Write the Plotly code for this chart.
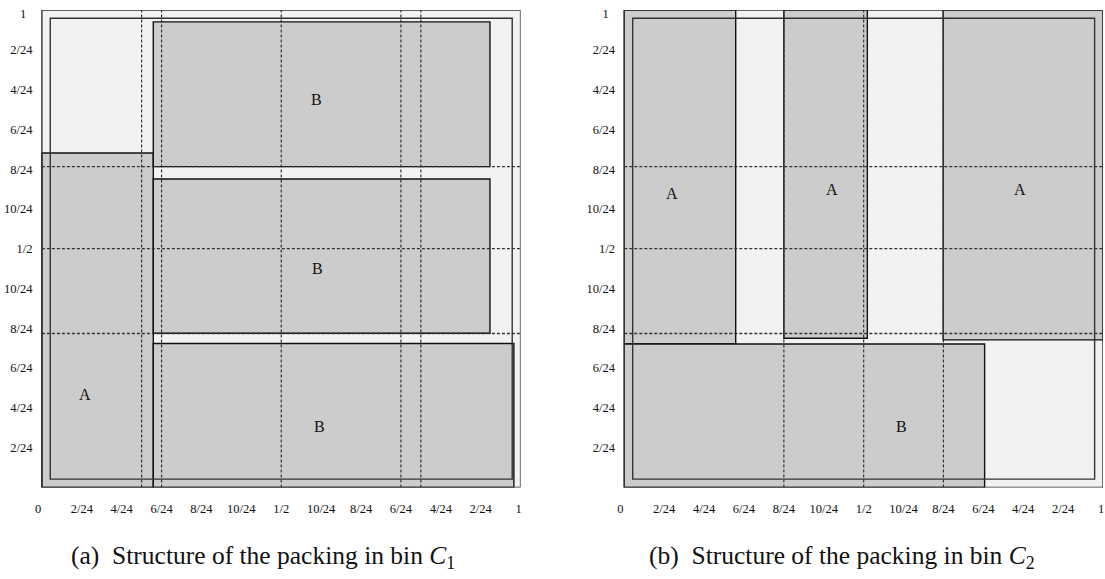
import plotly.graph_objects as go

# ---------------- data ----------------
# bin C1 rectangles (x0, x1, y0, y1) in bin units
c1_names = ["A", "B", "B", "B"]
c1_x0 = [0.0, 0.2327, 0.2327, 0.2327]
c1_x1 = [0.2327, 0.936, 0.936, 0.986]
c1_y0 = [0.0, 0.672, 0.323, 0.0]
c1_y1 = [0.7006, 0.975, 0.646, 0.3015]
c1_lab_x = [0.09, 0.573, 0.575, 0.579]
c1_lab_y = [0.194, 0.8125, 0.458, 0.127]
c1_vdash = [5/24, 6/24, 12/24, 18/24, 19/24]
c1_hdash = [0.3225, 0.5, 0.672]

# bin C2 rectangles
c2_names = ["A", "A", "A", "B"]
c2_x0 = [0.0, 0.3333, 0.666, 0.0]
c2_x1 = [0.2327, 0.5077, 1.0, 0.7527]
c2_y0 = [0.3006, 0.3125, 0.309, 0.0]
c2_y1 = [1.0, 1.0, 1.0, 0.3006]
c2_lab_x = [0.1, 0.433, 0.827, 0.579]
c2_lab_y = [0.615, 0.623, 0.623, 0.127]
c2_vdash = [8/24, 12/24, 16/24]
c2_hdash = [0.3225, 0.5, 0.672]

eps = 0.0175  # inner boundary inset

x_tickvals = [-0.008] + [k/24 for k in range(2, 24, 2)] + [0.996]
x_ticktext = ["0", "2/24", "4/24", "6/24", "8/24", "10/24", "1/2",
              "10/24", "8/24", "6/24", "4/24", "2/24", "1"]
y_tickvals = [k/24 for k in range(2, 24, 2)] + [0.992]
y_ticktext = ["2/24", "4/24", "6/24", "8/24", "10/24", "1/2",
              "10/24", "8/24", "6/24", "4/24", "2/24", "1\u00a0\u00a0"]

captions = ["(a)\u00a0\u00a0Structure of the packing in bin <i>C</i><sub>1</sub>",
            "(b)\u00a0\u00a0Structure of the packing in bin <i>C</i><sub>2</sub>"]

# ---------------- figure ----------------
W, H = 1105, 579
LIGHT = "#f2f2f2"
GREY = "#cccccc"
SERIF = "Liberation Serif"

fig = go.Figure()
shapes = []
annotations = []

panels = [
    ("x", "y", c1_names, c1_x0, c1_x1, c1_y0, c1_y1, c1_lab_x, c1_lab_y, c1_vdash, c1_hdash),
    ("x2", "y2", c2_names, c2_x0, c2_x1, c2_y0, c2_y1, c2_lab_x, c2_lab_y, c2_vdash, c2_hdash),
]

for (xr, yr, names, x0s, x1s, y0s, y1s, lx, ly, vd, hd) in panels:
    shapes.append(dict(type="rect", xref=xr, yref=yr, x0=0, x1=1, y0=0, y1=1,
                       fillcolor=LIGHT, line=dict(width=0), layer="below"))
    for a, b, c, d in zip(x0s, x1s, y0s, y1s):
        shapes.append(dict(type="rect", xref=xr, yref=yr, x0=a, x1=b, y0=c, y1=d,
                           fillcolor=GREY, line=dict(color="#111111", width=1.4)))
    for v in vd:
        shapes.append(dict(type="line", xref=xr, yref=yr, x0=v, x1=v, y0=0, y1=1,
                           line=dict(color="#333333", width=1.2, dash="3px,2px")))
    for h in hd:
        shapes.append(dict(type="line", xref=xr, yref=yr, x0=0, x1=1, y0=h, y1=h,
                           line=dict(color="#333333", width=1.3, dash="3px,2px")))
    shapes.append(dict(type="rect", xref=xr, yref=yr, x0=0, x1=1, y0=0, y1=1,
                       line=dict(color="#333333", width=1.4)))
    shapes.append(dict(type="rect", xref=xr, yref=yr, x0=eps, x1=1-eps, y0=eps, y1=1-eps,
                       line=dict(color="#333333", width=1.4)))
    for n, px, py in zip(names, lx, ly):
        annotations.append(dict(xref=xr, yref=yr, x=px, y=py, text=n, showarrow=False,
                                xanchor="center", yanchor="middle",
                                font=dict(family=SERIF, size=16, color="#111111")))

fig.add_trace(go.Scatter(x=[0, 1], y=[0, 1], mode="markers", marker=dict(opacity=0),
                         hoverinfo="skip", showlegend=False, xaxis="x", yaxis="y"))
fig.add_trace(go.Scatter(x=[0, 1], y=[0, 1], mode="markers", marker=dict(opacity=0),
                         hoverinfo="skip", showlegend=False, xaxis="x2", yaxis="y2"))

XPAD = 0.01  # small range extension on the left so the "0" label fits
ydom = [(H - 487) / H, (H - 7) / H]
axis_common = dict(showgrid=False, zeroline=False, showline=False,
                   tickfont=dict(family=SERIF, size=12.5, color="#111111"))
xcommon = dict(axis_common, range=[-XPAD, 1], tickmode="array", tickvals=x_tickvals,
               ticktext=x_ticktext, ticks="outside", ticklen=10, tickcolor="rgba(0,0,0,0)")
ycommon = dict(axis_common, range=[0, 1], tickmode="array", tickvals=y_tickvals,
               ticktext=y_ticktext, ticks="outside", ticklen=1, tickcolor="rgba(0,0,0,0)")

annotations.append(dict(xref="paper", yref="paper", x=262 / W, y=(H - 557) / H, text=captions[0],
                        xanchor="center", yanchor="middle", showarrow=False,
                        font=dict(family=SERIF, size=25.5, color="#111111")))
annotations.append(dict(xref="paper", yref="paper", x=842 / W, y=(H - 557) / H, text=captions[1],
                        xanchor="center", yanchor="middle", showarrow=False,
                        font=dict(family=SERIF, size=25.5, color="#111111")))

pad_px = 480 * XPAD
fig.update_layout(
    width=W, height=H,
    margin=dict(l=0, r=0, t=0, b=0),
    paper_bgcolor="white", plot_bgcolor="white",
    xaxis=dict(xcommon, domain=[(40 - pad_px) / W, 520 / W], anchor="y"),
    yaxis=dict(ycommon, domain=ydom, anchor="x"),
    xaxis2=dict(xcommon, domain=[(624 - pad_px) / W, 1104 / W], anchor="y2"),
    yaxis2=dict(ycommon, domain=ydom, anchor="x2"),
    shapes=shapes,
    annotations=annotations,
    showlegend=False,
)

fig.write_html("out.html")
